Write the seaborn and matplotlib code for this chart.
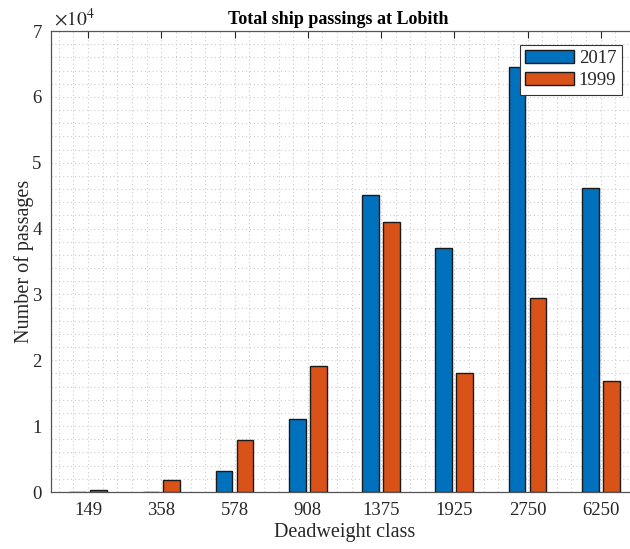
import matplotlib
matplotlib.use('Agg')
import matplotlib.pyplot as plt
from matplotlib.ticker import MultipleLocator, FuncFormatter
import pandas as pd
import seaborn as sns

# data
classes = ['149', '358', '578', '908', '1375', '1925', '2750', '6250']
passages_2017 = [40, 60, 3250, 11100, 45100, 37100, 64500, 46100]
passages_1999 = [250, 1900, 7950, 19100, 41000, 18000, 29400, 16900]
years = ['2017', '1999']
colors = ['#0072BD', '#D95319']

df = pd.DataFrame({
    'Deadweight class': classes * 2,
    'Passages': passages_2017 + passages_1999,
    'Year': [years[0]] * len(classes) + [years[1]] * len(classes),
})

sns.set_style('white')
plt.rcParams['font.family'] = ['Liberation Serif', 'DejaVu Serif']
plt.rcParams['mathtext.fontset'] = 'stix'

fig = plt.figure(figsize=(6.3, 5.49), dpi=100)
# the right edge of the axes lies just past the picture edge, as in the reference
ax = fig.add_axes([0.0817, 0.1038, 0.930, 0.8397])

sns.barplot(data=df, x='Deadweight class', y='Passages', hue='Year',
            palette=colors, saturation=1, width=0.571, gap=0.2,
            errorbar=None, edgecolor='#1a1a1a', linewidth=1.0, ax=ax,
            zorder=3)

ax.set_xlim(-0.5, 7.5)
ax.set_ylim(0, 70000)
ax.yaxis.set_major_locator(MultipleLocator(10000))
ax.yaxis.set_minor_locator(MultipleLocator(2000))
ax.xaxis.set_minor_locator(MultipleLocator(0.2))
ax.yaxis.set_major_formatter(FuncFormatter(lambda v, p: f'{v / 1e4:g}'))

ax.grid(True, which='both', linestyle=(0, (1, 2.5)), color='#cccccc',
        linewidth=0.8, zorder=0)
ax.set_axisbelow(True)

axis_col = '#262626'
for s in ax.spines.values():
    s.set_color('#555555')
    s.set_linewidth(0.9)
ax.tick_params(which='major', direction='in', length=5, width=0.8,
               color=axis_col, labelcolor=axis_col, labelsize=13.5,
               top=True, right=True, pad=7)
ax.tick_params(which='minor', length=0)

ax.set_xlabel('Deadweight class', fontsize=14.5, color=axis_col, labelpad=3)
ax.set_ylabel('Number of passages', fontsize=14.5, color=axis_col, labelpad=-1)
ax.set_title('Total ship passings at Lobith', fontsize=13, fontweight='bold',
             color='black', pad=5, x=0.49)
ax.text(0.004, 1.002, r'$\times10^{4}$', transform=ax.transAxes, fontsize=14,
        color=axis_col, ha='left', va='bottom')

leg = ax.legend(loc='upper right', bbox_to_anchor=(0.987, 0.9186),
                bbox_transform=fig.transFigure, borderaxespad=0,
                fontsize=13.5, frameon=True, fancybox=False, framealpha=1,
                edgecolor='#333333', handlelength=2.6, handleheight=0.7,
                handletextpad=0.25, borderpad=0.3, labelspacing=0.25,
                title=None)
leg.get_frame().set_linewidth(0.8)

fig.savefig('out.png', dpi=100)
